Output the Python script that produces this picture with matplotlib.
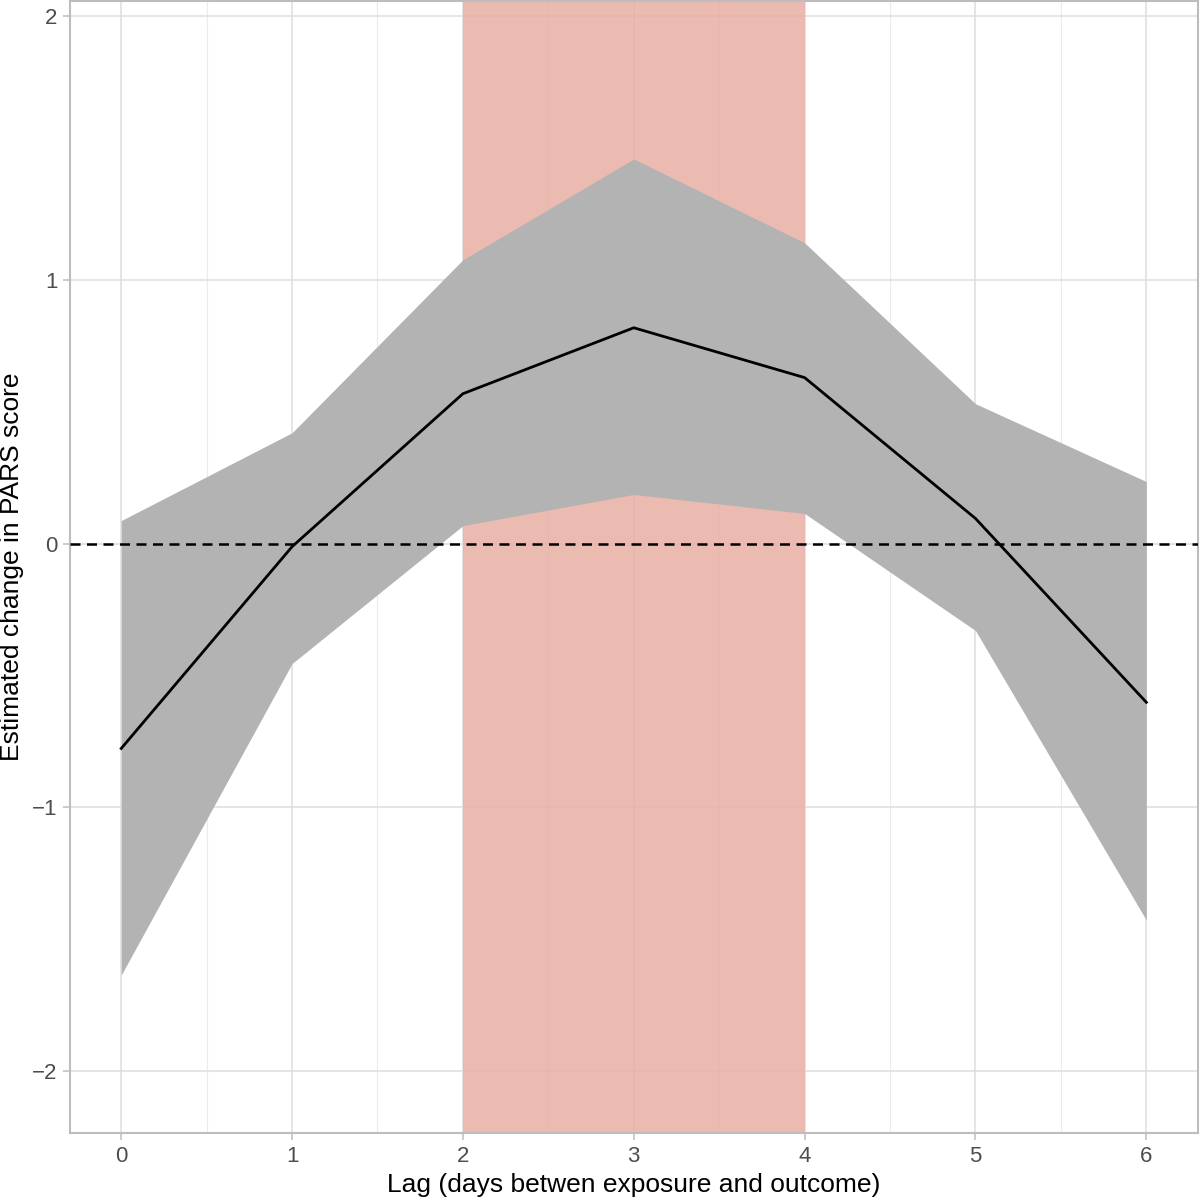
import matplotlib
matplotlib.use("Agg")
import matplotlib.pyplot as plt

# lag days and estimated change with confidence band
lag = [0, 1, 2, 3, 4, 5, 6]
estimate = [-0.777, -0.012, 0.568, 0.818, 0.629, 0.095, -0.602]
upper = [0.087, 0.420, 1.076, 1.458, 1.140, 0.530, 0.235]
lower = [-1.636, -0.455, 0.068, 0.186, 0.114, -0.330, -1.428]
highlight = (2, 4)

plt.rcParams['font.family'] = ['Liberation Sans', 'DejaVu Sans']

fig = plt.figure(figsize=(12, 12), dpi=100)
ax = fig.add_axes([0.0583, 0.0558, 0.9397, 0.9434])

ax.axvspan(highlight[0], highlight[1], facecolor='#E8AEA4', alpha=0.85, lw=0, zorder=1)
ax.fill_between(lag, lower, upper, color='#B3B3B3', lw=0, zorder=2)
ax.plot(lag, estimate, color='black', lw=2, zorder=3)
ax.axhline(0, color='black', lw=1.8, ls=(0, (4, 2.6)), zorder=4)

ax.set_xlim(-0.3, 6.3)
ax.set_ylim(-2.235, 2.057)
ax.set_xticks(lag)
ax.set_yticks([-2, -1, 0, 1, 2])
ax.set_yticklabels(['\u22122', '\u22121', '0', '1', '2'])
ax.set_xticks([0.5, 1.5, 2.5, 3.5, 4.5, 5.5], minor=True)
ax.grid(which='major', color='#DEDEDE', lw=1.1, zorder=0)
ax.grid(which='minor', axis='x', color='#EBEBEB', lw=0.8, zorder=0)
ax.set_axisbelow(True)

for s in ax.spines.values():
    s.set_color('#BDBDBD')
    s.set_linewidth(1.5)

ax.tick_params(which='major', length=5, width=1.1, color='#BDBDBD',
               labelsize=16, labelcolor='#4D4D4D', pad=4)
ax.tick_params(which='minor', length=0)

ax.set_xlabel('Lag (days betwen exposure and outcome)', fontsize=19, labelpad=5)
ax.set_ylabel('Estimated change in PARS score', fontsize=19, labelpad=6)

fig.savefig('out.png', dpi=100)
